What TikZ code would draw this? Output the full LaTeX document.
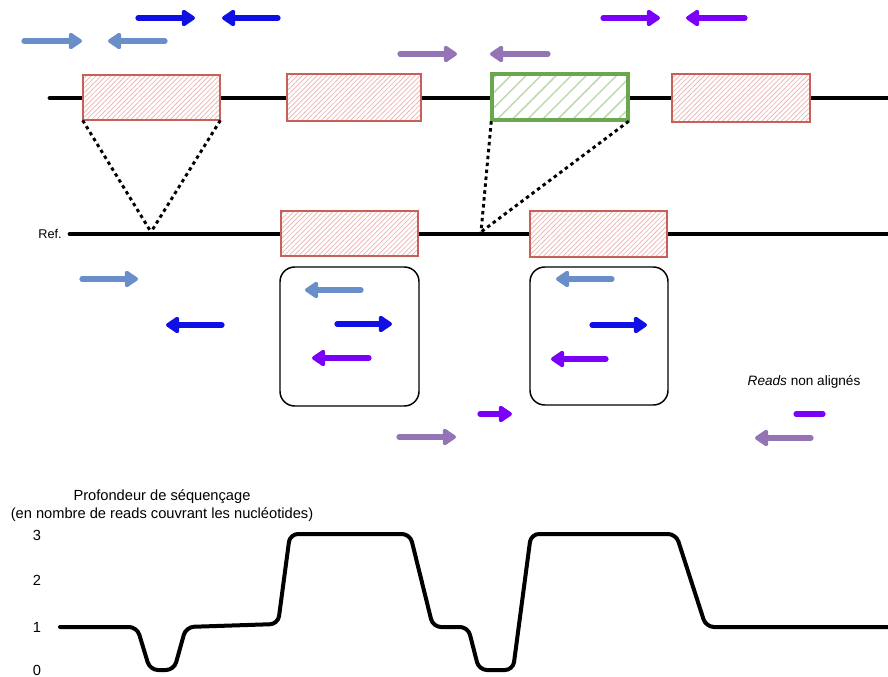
\documentclass[tikz,border=0pt]{standalone}
\usepackage{fontspec}
\setmainfont{Liberation Sans}
\usetikzlibrary{arrows.meta,patterns.meta}
\definecolor{dblue}{HTML}{0F0FE6}
\definecolor{sblue}{HTML}{6A8EC8}
\definecolor{lpurp}{HTML}{9474B4}
\definecolor{viol}{HTML}{7B00F7}
\definecolor{exred}{HTML}{C8605A}
\definecolor{hatchred}{HTML}{ECAFAB}
\definecolor{exgreen}{HTML}{6AA84F}
\definecolor{hatchgreen}{HTML}{BCD9B0}
\tikzset{
  readarrow/.style={line width=3.9pt, line cap=round, -{Triangle[length=11pt,width=14pt,round]}},
  readbar/.style={line width=3.9pt, line cap=round},
  gene/.style={line width=3.6pt, line cap=round},
  exon/.style={draw=exred, line width=0.9pt, inner sep=0pt, preaction={fill=white},
    pattern={Lines[angle=45,distance=2.6pt,line width=0.5pt]}, pattern color=hatchred},
  exongreen/.style={draw=exgreen, line width=3pt, inner sep=0pt, preaction={fill=white},
    pattern={Lines[angle=45,distance=8pt,line width=1.1pt]}, pattern color=hatchgreen},
  insert/.style={line width=2.2pt, dash pattern=on 2.6pt off 2.6pt},
  region/.style={draw=black, line width=1.1pt, rounded corners=11pt, inner sep=0pt},
  lbl/.style={font=\fontsize{9.5}{11}\selectfont, inner sep=0pt},
  glbl/.style={font=\fontsize{11}{13}\selectfont, inner sep=0pt},
  depth/.style={line width=3pt, rounded corners=6pt, line join=round, line cap=round}
}
\begin{document}
\begin{tikzpicture}[x=0.75pt,y=-0.75pt]
\useasboundingbox (0,0) rectangle (888,677);

% top reads
\draw[readarrow, dblue] (138,18) -- (195,18);
\draw[readarrow, dblue] (278,18) -- (222,18);
\draw[readarrow, sblue] (24,41) -- (82,41);
\draw[readarrow, sblue] (165,41) -- (108,41);
\draw[readarrow, lpurp] (400,54) -- (457,54);
\draw[readarrow, lpurp] (548,54) -- (490,54);
\draw[readarrow, viol] (603,18) -- (660,18);
\draw[readarrow, viol] (745,18) -- (686,18);

% gene lines
\coordinate (gL) at (50,98);
\coordinate (gR) at (888,98);
\draw[gene] (gL) -- (gR);
\coordinate (rL) at (70,234);
\coordinate (rR) at (888,234);
\draw[gene] (rL) -- (rR);

% exons of the sample
\node[exon, minimum width=102.75pt, minimum height=33.75pt] (e1) at (151.5,97.5) {};
\node[exon, minimum width=100.5pt, minimum height=35.25pt] (e2) at (354,97.5) {};
\node[exongreen, minimum width=102pt, minimum height=34.5pt] (eg) at (560,97.5) {};
\node[exon, minimum width=103.5pt, minimum height=36pt] (e4) at (741,98) {};

% reference exons
\node[exon, minimum width=102.75pt, minimum height=33.75pt] (r1) at (349.5,233.5) {};
\node[exon, minimum width=102.75pt, minimum height=34.5pt] (r2) at (598.5,234) {};

\node[lbl, anchor=center] (ref) at (50,234) {Ref.};

% insertion points
\coordinate (ins1) at (151,232);
\coordinate (ins2) at (481,232);
\draw[insert] (e1.south west) -- (ins1);
\draw[insert] (e1.south east) -- (ins1);
\draw[insert] (eg.south west) -- (ins2);
\draw[insert] (eg.south east) -- (ins2);

% regions
\node[region, minimum width=104.25pt, minimum height=104.25pt] (ra) at (349.5,336.5) {};
\node[region, minimum width=103.5pt, minimum height=103.5pt] (rb) at (599,336) {};

% reads below reference
\draw[readarrow, sblue] (82,279) -- (138,279);
\draw[readarrow, dblue] (222,325) -- (166,325);
\draw[readarrow, sblue] (361,290) -- (305,290);
\draw[readarrow, dblue] (337,324) -- (392,324);
\draw[readarrow, viol] (369,358) -- (312,358);
\draw[readarrow, sblue] (612,279) -- (556,279);
\draw[readarrow, dblue] (592,325) -- (647,325);
\draw[readarrow, viol] (606,359) -- (551,359);

% unaligned reads
\node[font=\fontsize{10.2}{12}\selectfont, inner sep=0pt, anchor=center] (unal) at (804,382) {\textit{Reads} non alignés};
\draw[readarrow, viol] (480,414) -- (512,414);
\draw[readarrow, lpurp] (399,437) -- (456,437);
\draw[readbar, viol] (796,414) -- (823,414);
\draw[readarrow, lpurp] (811,438) -- (755,438);

% depth graph
\node[glbl] (t1) at (162,497) {Profondeur de séquençage};
\node[glbl] (t2) at (162,515) {(en nombre de reads couvrant les nucléotides)};
\node[glbl] (y3) at (37,535) {3};
\node[glbl] (y2) at (37,580) {2};
\node[glbl] (y1) at (37,627) {1};
\node[glbl] (y0) at (37,670) {0};
\draw[depth] (60,627) -- (137,627) -- (150,670) -- (174,670) -- (186,627)
  -- (278,624) -- (290,534) -- (410,534) -- (433,627) -- (468,627)
  -- (479,670) -- (513,670) -- (531,534) -- (676,534) -- (706,627) -- (888,627);
\end{tikzpicture}
\end{document}
